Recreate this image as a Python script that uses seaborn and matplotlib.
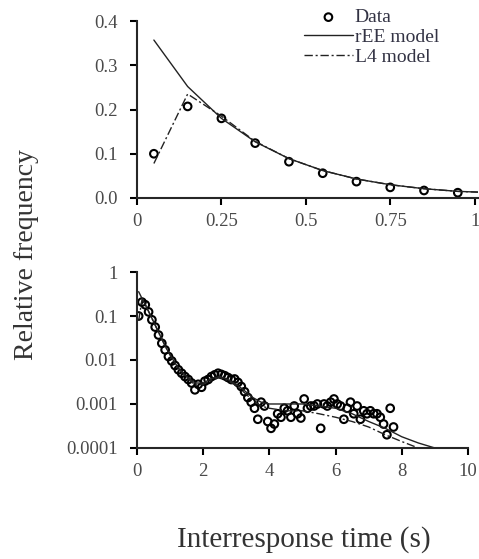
import numpy as np
import pandas as pd
import matplotlib
matplotlib.use("Agg")
import matplotlib.pyplot as plt
import seaborn as sns

# Data
irt_bins = [0.05, 0.15, 0.25, 0.35, 0.45, 0.55, 0.65, 0.75, 0.85, 0.95,
            1.05, 1.15, 1.25, 1.35, 1.45, 1.55, 1.65, 1.75, 1.85, 1.95,
            2.05, 2.15, 2.25, 2.35, 2.45, 2.55, 2.65, 2.75, 2.85, 2.95,
            3.05, 3.15, 3.25, 3.35, 3.45, 3.55, 3.65, 3.75, 3.85, 3.95,
            4.05, 4.15, 4.25, 4.35, 4.45, 4.55, 4.65, 4.75, 4.85, 4.95,
            5.05, 5.15, 5.25, 5.35, 5.45, 5.55, 5.65, 5.75, 5.85, 5.95,
            6.05, 6.15, 6.25, 6.35, 6.45, 6.55, 6.65, 6.75, 6.85, 6.95,
            7.05, 7.15, 7.25, 7.35, 7.45, 7.55, 7.65, 7.75]
observed = [0.100, 0.207, 0.180, 0.124, 0.082, 0.056, 0.037, 0.024, 0.017, 0.012,
            0.0095, 0.0075, 0.0060, 0.0050, 0.0042, 0.0036, 0.0030, 0.0021, 0.0028, 0.0024,
            0.0033, 0.0036, 0.0042, 0.0046, 0.0050, 0.0047, 0.0044, 0.0040, 0.0036, 0.0037,
            0.0031, 0.0025, 0.0019, 0.0014, 0.0011, 0.0008, 0.00045, 0.0011, 0.0009, 0.0004,
            0.00028, 0.00035, 0.0006, 0.0005, 0.0008, 0.0007, 0.0005, 0.0009, 0.0006, 0.00048,
            0.0013, 0.0008, 0.0009, 0.0009, 0.0010, 0.00028, 0.0010, 0.0009, 0.0011, 0.0013,
            0.0010, 0.0009, 0.00045, 0.0008, 0.0011, 0.0006, 0.0009, 0.00045, 0.0007, 0.0006,
            0.0007, 0.0006, 0.0006, 0.0005, 0.00035, 0.0002, 0.0008, 0.0003]

model_x = [0.05, 0.15, 0.25, 0.35, 0.45, 0.55, 0.65, 0.75, 0.85, 0.95,
           1.25, 1.5, 1.75, 2.0, 2.25, 2.5, 2.75, 3.0, 3.25, 3.5,
           3.75, 4.0, 4.5, 5.0, 5.5, 6.0, 6.5, 7.0, 7.5, 8.0, 8.5, 9.0, 9.5]
ree_model = [0.357, 0.252, 0.180, 0.127, 0.089, 0.062, 0.043, 0.030, 0.021, 0.015,
             0.0065, 0.0042, 0.0030, 0.0030, 0.0038, 0.0042, 0.0036, 0.0028, 0.0020, 0.0014,
             0.0011, 0.0010, 0.0010, 0.0010, 0.0009, 0.0008, 0.0006, 0.0004, 0.00028, 0.00018,
             0.00013, 0.0001, 0.00007]
l4_model = [0.078, 0.235, 0.185, 0.128, 0.089, 0.062, 0.043, 0.030, 0.021, 0.015,
            0.0065, 0.0040, 0.0027, 0.0028, 0.0035, 0.0040, 0.0034, 0.0026, 0.0018, 0.0012,
            0.0009, 0.0008, 0.0007, 0.0007, 0.0006, 0.0005, 0.0004, 0.0003, 0.0002, 0.00014,
            0.0001, 0.00008, 0.00006]

top_xticks = [0, 0.25, 0.5, 0.75, 1]
top_xlabels = ["0", "0.25", "0.5", "0.75", "1"]
top_yticks = [0.0, 0.1, 0.2, 0.3, 0.4]
top_ylabels = ["0.0", "0.1", "0.2", "0.3", "0.4"]
bot_xticks = [0, 2, 4, 6, 8, 10]
bot_yticks = [1, 0.1, 0.01, 0.001, 0.0001]
bot_ylabels = ["1", "0.1", "0.01", "0.001", "0.0001"]

sns.set_style("ticks")
plt.rcParams["font.family"] = ["Liberation Serif", "DejaVu Serif"]
plt.rcParams["axes.linewidth"] = 1.5
plt.rcParams["xtick.major.width"] = 1.5
plt.rcParams["ytick.major.width"] = 1.5
plt.rcParams["xtick.major.size"] = 5
plt.rcParams["ytick.major.size"] = 5
plt.rcParams["xtick.color"] = "black"
plt.rcParams["ytick.color"] = "black"
plt.rcParams["xtick.labelcolor"] = "#4a4a4a"
plt.rcParams["ytick.labelcolor"] = "#4a4a4a"

df_obs = pd.DataFrame({"x": irt_bins, "y": observed})
df_mod = pd.DataFrame({"x": model_x, "ree": ree_model, "l4": l4_model})

fig = plt.figure(figsize=(4.79, 5.59), dpi=100)
ax1 = fig.add_axes([0.286, 0.6458, 0.712, 0.3166])
ax2 = fig.add_axes([0.286, 0.1986, 0.691, 0.3148])

marker_kw = dict(marker="o", s=30, facecolor="none", edgecolor="black", linewidth=1.5)


def draw_panel(ax, obs, legend):
    sns.lineplot(data=df_mod, x="x", y="ree", ax=ax, color="#222222", lw=1.0,
                 label="rEE model" if legend else None)
    sns.lineplot(data=df_mod, x="x", y="l4", ax=ax, color="#222222", lw=1.0,
                 linestyle=(0, (6, 2, 1.5, 2)), label="L4 model" if legend else None)
    sns.scatterplot(data=obs, x="x", y="y", ax=ax, label="Data" if legend else None,
                    **marker_kw)
    sns.despine(ax=ax)
    ax.set_xlabel("")
    ax.set_ylabel("")
    ax.tick_params(axis="y", labelsize=13.5, pad=9)
    ax.tick_params(axis="x", labelsize=13.5, pad=6)


# Top panel: linear scale, first second only
draw_panel(ax1, df_obs[df_obs["x"] < 1], True)
ax1.set_xlim(0, 1.01)
ax1.set_ylim(0, 0.4)
ax1.set_xticks(top_xticks, top_xlabels)
ax1.set_yticks(top_yticks, top_ylabels)
h, l = ax1.get_legend_handles_labels()
order = [l.index("Data"), l.index("rEE model"), l.index("L4 model")]
ax1.legend([h[i] for i in order], [l[i] for i in order], loc="upper left",
           bbox_to_anchor=(0.49, 1.07), frameon=False, fontsize=14,
           borderpad=0, borderaxespad=0, handlelength=2.5, handletextpad=0.1,
           labelspacing=0.12, labelcolor="#333344")

# Bottom panel: log scale, whole range
draw_panel(ax2, df_obs, False)
ax2.set_yscale("log")
ax2.set_xlim(0, 10)
ax2.set_ylim(0.0001, 1)
ax2.set_xticks(bot_xticks, [str(t) for t in bot_xticks])
ax2.set_yticks(bot_yticks, bot_ylabels)
ax2.minorticks_off()

fig.text(0.055, 0.545, "Relative frequency", rotation=90, ha="center", va="center",
         fontsize=20, color="#333333")
fig.text(0.635, 0.034, "Interresponse time (s)", ha="center", va="center",
         fontsize=21, color="#333333")

fig.savefig("out.png", dpi=100)
